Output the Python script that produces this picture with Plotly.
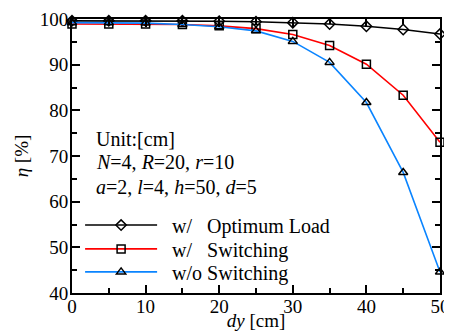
import plotly.graph_objects as go

dy = [0, 5, 10, 15, 20, 25, 30, 35, 40, 45, 50]
eta_opt = [99.6, 99.6, 99.6, 99.6, 99.5, 99.4, 99.2, 98.9, 98.4, 97.7, 96.7]
eta_sw = [98.9, 98.9, 98.9, 98.8, 98.5, 97.9, 96.6, 94.2, 90.1, 83.3, 73.0]
eta_nosw = [99.2, 99.2, 99.1, 98.8, 98.3, 97.4, 95.1, 90.5, 81.7, 66.4, 44.6]
names = ["w/   Optimum Load", "w/   Switching", "w/o Switching"]
colors = ["#000000", "#ff0000", "#0a84ff"]
symbols = ["diamond-open", "square-open", "triangle-up-open"]
legend_ids = ["legend", "legend2", "legend3"]
legend_y = [0.248, 0.161, 0.077]

FONT = "Liberation Serif"

fig = go.Figure()
for ys, nm, c, s, lg in zip([eta_opt, eta_sw, eta_nosw], names, colors, symbols, legend_ids):
    fig.add_trace(go.Scatter(
        x=dy, y=ys, name="\u00a0\u00a0" + nm, mode="lines+markers", legend=lg,
        line=dict(color=c, width=1.6),
        marker=dict(symbol=s, size=8, color="black", line=dict(color="black", width=1.5)),
        cliponaxis=False,
    ))

axis_common = dict(
    showline=True, linecolor="black", linewidth=2, mirror="ticks",
    ticks="inside", ticklen=8, tickwidth=1.5, tickcolor="black",
    showgrid=False, zeroline=False, automargin=False,
    tickfont=dict(family=FONT, size=19, color="black"),
    minor=dict(ticks="inside", ticklen=5, tickwidth=1.5, tickcolor="black", dtick=5, showgrid=False),
)
fig.update_xaxes(range=[0, 50], dtick=10, tick0=0, ticklabelstandoff=-5,
                 title=dict(text="<i>dy</i> [cm]", font=dict(family=FONT, size=19, color="black"), standoff=0),
                 **axis_common)
fig.update_yaxes(range=[40, 100], dtick=10, tick0=40, ticklabelstandoff=-2,
                 title=dict(text="<i>η</i> [%]", font=dict(family=FONT, size=19, color="black"), standoff=6),
                 **axis_common)

texts = ["Unit:[cm]", "<i>N</i>=4, <i>R</i>=20, <i>r</i>=10", "<i>a</i>=2, <i>l</i>=4, <i>h</i>=50, <i>d</i>=5"]
ypos = [73.7, 68.6, 63.2]
for t, yy in zip(texts, ypos):
    fig.add_annotation(x=3.0, y=yy, xref="x", yref="y", text=t, showarrow=False,
                       xanchor="left", yanchor="middle",
                       font=dict(family=FONT, size=20, color="black"))

legend_common = dict(x=0.022, xanchor="left", yanchor="middle",
                     bgcolor="rgba(0,0,0,0)", itemwidth=72,
                     font=dict(family=FONT, size=20, color="black"))
fig.update_layout(
    width=444, height=323,
    margin=dict(l=64, r=12, t=11, b=38),
    paper_bgcolor="white", plot_bgcolor="white",
    showlegend=True,
    legend=dict(y=legend_y[0], **legend_common),
    legend2=dict(y=legend_y[1], **legend_common),
    legend3=dict(y=legend_y[2], **legend_common),
)
fig.write_html("out.html")
